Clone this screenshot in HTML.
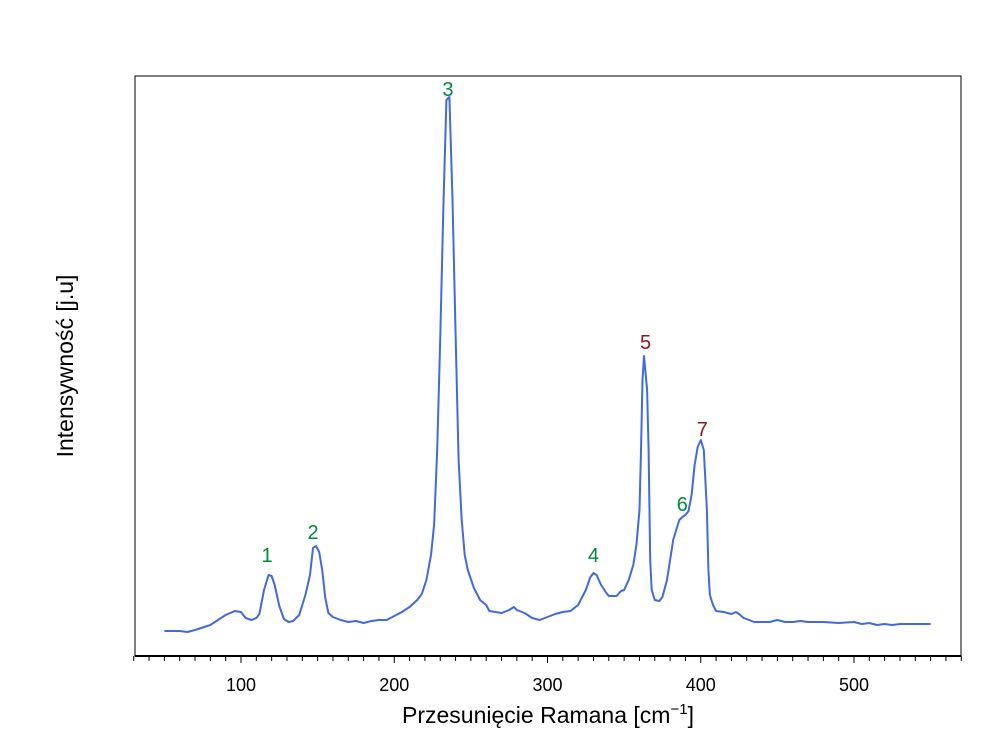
<!DOCTYPE html>
<html><head><meta charset="utf-8"><style>
body{margin:0;background:#fff}
svg text{font-family:"Liberation Sans",sans-serif}
</style></head><body>
<svg width="1000" height="750" xmlns="http://www.w3.org/2000/svg">
<rect x="135" y="76" width="826" height="580" fill="none" stroke="#000" stroke-width="1"/>
<g id="xaxis"></g>
<path id="line" fill="none" stroke="#4169e1" stroke-width="2" stroke-linejoin="round"/>
<g id="labels"></g>
<text x="548" y="723" font-size="23" text-anchor="middle">Przesunięcie Ramana [cm<tspan dy="-9" font-size="15">−1</tspan><tspan dy="9">]</tspan></text>
<text transform="translate(73,366) rotate(-90)" font-size="23" text-anchor="middle">Intensywność [j.u]</text>
</svg>
<script>
const shifts=[50,60,65,70,80,85,90,96,100,103,107,110,112,115,118,120,122,125,128,131,134,138,142,145,147,149,151,153,155,157,160,165,170,175,180,185,190,195,200,205,210,215,218,221,224,226,228,230,232,234,236,238,240,242,244,246,248,252,256,260,262,266,270,275,278,280,285,290,295,300,305,310,315,320,325,328,330,332,335,338,340,345,348,350,353,356,358,360,361,362,363,365,366,367,368,370,373,375,378,380,382,384,386,388,390,392,394,396,398,400,402,404,405,406,408,410,415,420,423,425,428,435,440,445,450,455,460,465,470,480,490,500,505,510,515,520,525,530,540,545,550];
const intensity=[25,25,24,26,31,36,41,45,44,38,36,38,42,66,81,80,71,50,37,34,35,41,61,81,108,110,104,86,58,43,39,36,34,35,33,35,36,36,40,44,49,56,62,76,101,131,206,316,446,556,559,456,326,196,136,101,86,68,56,51,45,44,43,46,49,46,43,38,36,39,42,44,45,51,66,79,83,81,71,64,60,60,65,66,76,91,111,146,206,276,300,266,206,96,66,56,55,59,76,96,116,126,136,139,141,145,161,191,209,216,206,146,86,61,51,45,44,42,44,42,38,34,34,34,36,34,34,35,34,34,33,34,32,33,31,32,31,32,32,32,32];
const xTicks=[100,200,300,400,500];
const labelNames=["1","2","3","4","5","6","7"];
const labelX=[117,147,235,330,364,388,401];
const labelY=[94,117,560,94,307,145,220];
const labelColor=["#008a3c","#008a3c","#008a3c","#008a3c","#8b1a1a","#008a3c","#8b1a1a"];
const xs=v=>241+(v-100)*1.5325;
const ys=v=>656-v;
const NS="http://www.w3.org/2000/svg";
const ax=document.getElementById('xaxis');
function mk(tag,attrs,parent){const e=document.createElementNS(NS,tag);for(const k in attrs)e.setAttribute(k,attrs[k]);parent.appendChild(e);return e;}
const base=mk('line',{x1:135,x2:961,y1:656,y2:656,stroke:'#000','stroke-width':2},ax);


for(let v=30;v<=570;v+=10){
 const major=xTicks.includes(v);
 const t=mk('line',{x1:xs(v),x2:xs(v),y1:656,y2:major?663:661,stroke:'#000','stroke-width':1},ax);
 
 
}
xTicks.forEach(v=>{
 const t=mk('text',{x:xs(v),y:691,'font-size':18,'text-anchor':'middle'},ax);
 t.textContent=v;
 
 
});
document.getElementById('line').setAttribute('d',shifts.map((s,i)=>(i?'L':'M')+xs(s).toFixed(1)+','+ys(intensity[i]).toFixed(1)).join(''));
const lg=document.getElementById('labels');
labelNames.forEach((n,i)=>{
 const t=mk('text',{x:xs(labelX[i]),y:ys(labelY[i]),'font-size':20,'text-anchor':'middle',fill:labelColor[i]},lg);
 t.textContent=n;
 
 
});
</script>
</body></html>
